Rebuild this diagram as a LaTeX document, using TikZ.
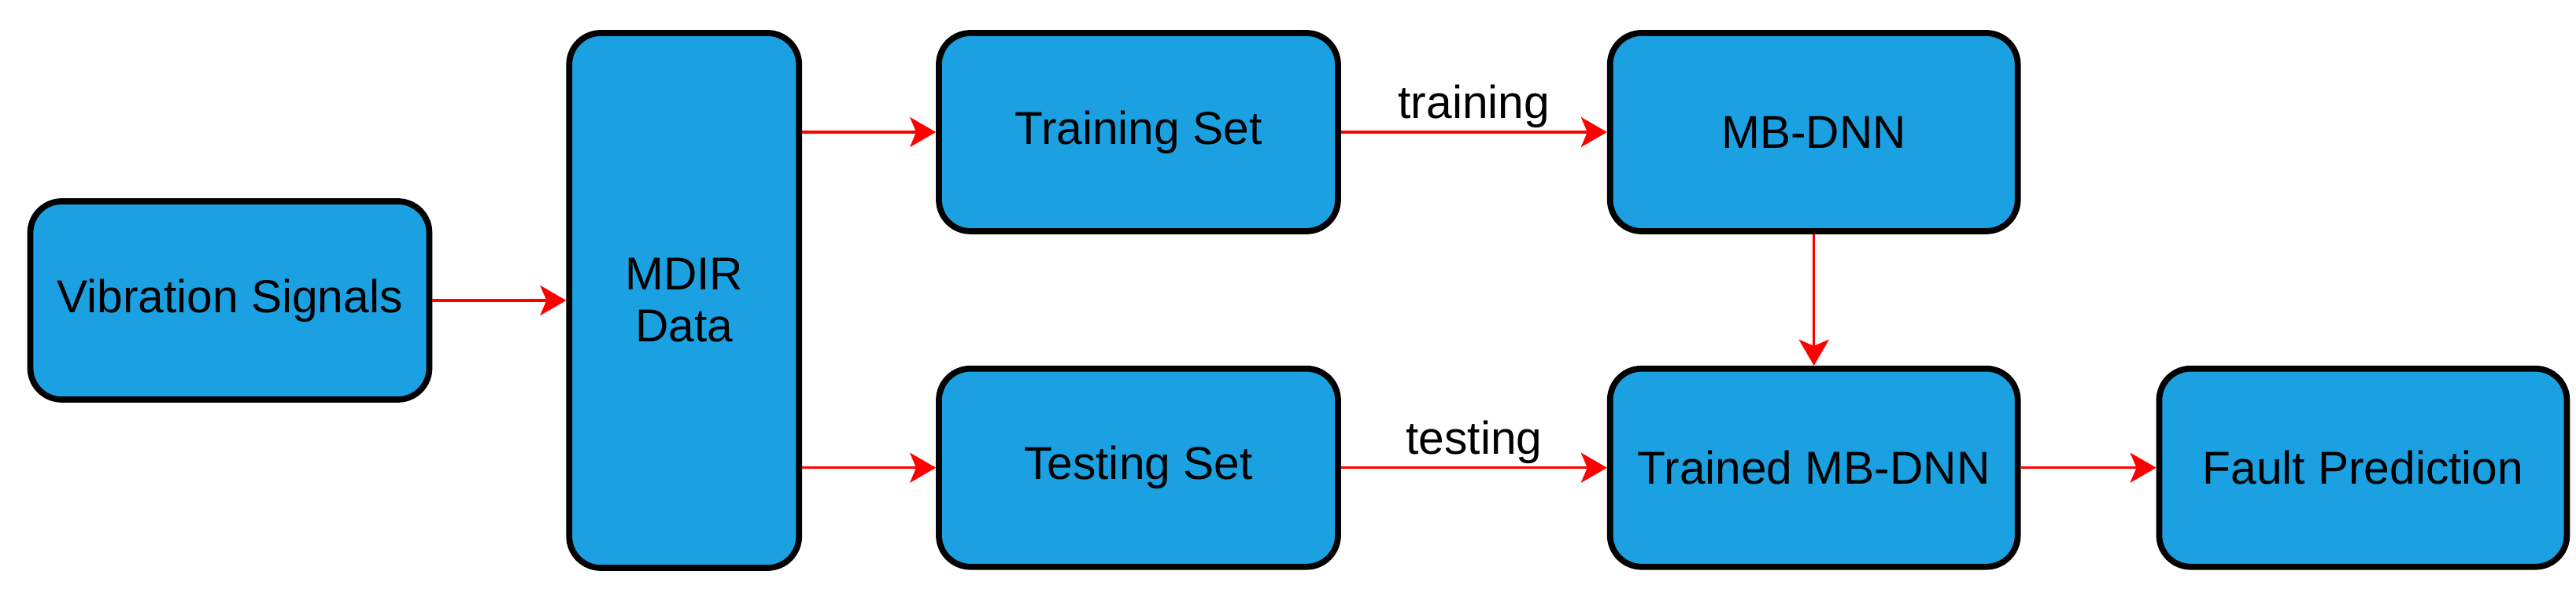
\documentclass[tikz,border=0pt]{standalone}
\usepackage{fontspec}
\setmainfont{Liberation Sans}
\usepackage{xcolor}
\usepackage{tikz}
\usetikzlibrary{positioning}
\usetikzlibrary{arrows.meta}
\definecolor{boxblue}{HTML}{1BA1E2}
\tikzset{
    block/.style={draw, line width=2.2pt, rectangle, rounded corners=0.4cm, fill=boxblue, minimum height=2.52cm, minimum width=5.07cm, align=center, font=\fontsize{16.7}{18.8}\selectfont},
    tall/.style={block, minimum width=2.92cm, minimum height=6.8cm},
    wide/.style={block, minimum width=5.18cm},
    arrow/.style={draw=red, line width=1pt, -{Stealth[length=3.3mm, width=3.8mm, inset=0.8mm, fill=red]}},
    lbl/.style={above, inner sep=1pt, font=\fontsize{16.7}{18.8}\selectfont}
}
\begin{document}
\begin{tikzpicture}[node distance=1.67cm and 1.7cm]
\useasboundingbox (0,0) rectangle (32.73,7.68);

\node [block]                         (vib)     at (2.92,3.86) {Vibration Signals};
\node [tall, right=of vib]            (mdir)                   {MDIR\\Data};
\coordinate[above=2.14cm of mdir.east] (c);
\node [block, right=of c]             (train)                  {Training Set};
\node [block, below=of train]         (test)                   {Testing Set};
\node [wide, right=3.38cm of train]   (mbdnn)                  {MB-DNN};
\node [wide, below=of mbdnn]          (trained)                {Trained MB-DNN};
\node [wide, right=1.72cm of trained] (fault)                  {Fault Prediction};

\draw [arrow] (vib) to (mdir);
\draw [arrow] (mdir.east |- train) to (train);
\draw [arrow] (mdir.east |- test) to (test);
\draw [arrow] (train) to node [lbl] {training} (mbdnn);
\draw [arrow] (test) to node [lbl] {testing} (trained);
\draw [arrow] (mbdnn) to (trained);
\draw [arrow] (trained) to (fault);

\end{tikzpicture}
\end{document}
